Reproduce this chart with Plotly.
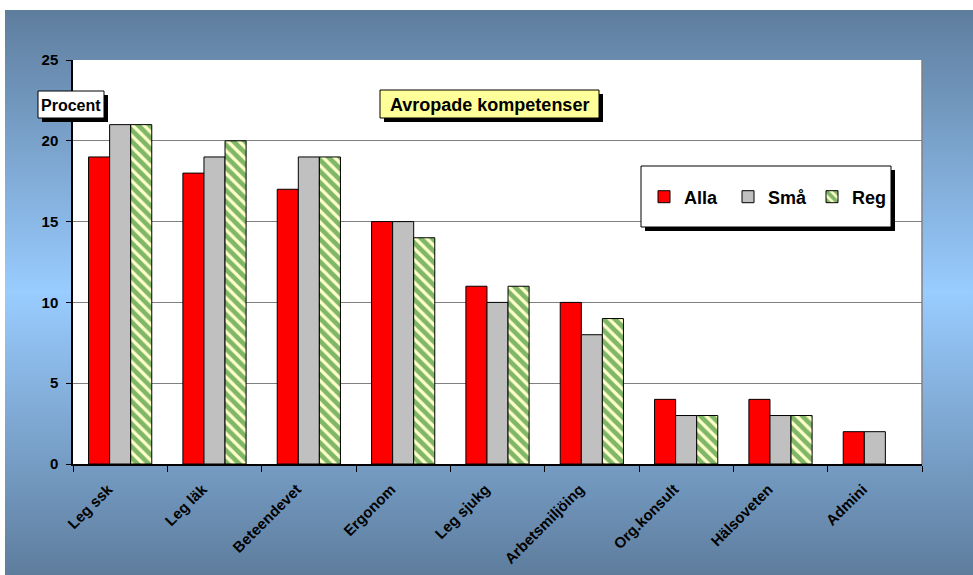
import base64
import plotly.graph_objects as go

categories = ["Leg ssk", "Leg läk", "Beteendevet", "Ergonom", "Leg sjukg",
              "Arbetsmiljöing", "Org.konsult", "Hälsoveten", "Admini"]
alla = [19, 18, 17, 15, 11, 10, 4, 4, 2]
sma = [21, 19, 19, 15, 10, 8, 3, 3, 2]
reg = [21, 20, 19, 14, 11, 9, 3, 3, None]
y_ticks = [0, 5, 10, 15, 20, 25]

W, H = 973, 575
L, R, T, B = 73, 922, 60, 464
FONT = "Liberation Sans, Arial, sans-serif"


def px_x(px):
    return (px - L) / (R - L)


def px_y(py):
    return (B - py) / (B - T)


fig = go.Figure()
fig.add_trace(go.Bar(name="Alla", x=categories, y=alla,
                     marker=dict(color="#ff0000", line=dict(color="#000000", width=1))))
fig.add_trace(go.Bar(name="Små", x=categories, y=sma,
                     marker=dict(color="#c0c0c0", line=dict(color="#000000", width=1))))
fig.add_trace(go.Bar(name="Reg", x=categories, y=reg,
                     marker=dict(color="#ffffcc", line=dict(color="#000000", width=1),
                                 pattern=dict(shape="\\", fgcolor="#007000", bgcolor="#ffffcc",
                                              size=8, solidity=0.6))))

svg = ("<svg xmlns='http://www.w3.org/2000/svg' width='968' height='565' viewBox='0 0 968 565' "
       "preserveAspectRatio='none'><defs><linearGradient id='g' x1='0' y1='0' x2='0' y2='1'>"
       "<stop offset='0' stop-color='#5e7d9d'/><stop offset='0.5' stop-color='#99ccff'/>"
       "<stop offset='1' stop-color='#5e7d9d'/></linearGradient></defs>"
       "<rect width='968' height='565' fill='url(#g)'/></svg>")
src = "data:image/svg+xml;base64," + base64.b64encode(svg.encode()).decode()

shapes = [
    # white plot area over the gradient background
    dict(type="rect", xref="paper", yref="paper", x0=0, x1=1, y0=0, y1=1,
         fillcolor="#ffffff", line=dict(width=0), layer="below"),
]


def box(x0, y0, x1, y1, fill, off=4):
    shapes.append(dict(type="rect", xref="paper", yref="paper",
                       x0=px_x(x0 + off), x1=px_x(x1 + off), y0=px_y(y0 + off), y1=px_y(y1 + off),
                       fillcolor="#000000", line=dict(width=0), layer="above"))
    shapes.append(dict(type="rect", xref="paper", yref="paper",
                       x0=px_x(x0), x1=px_x(x1), y0=px_y(y0), y1=px_y(y1),
                       fillcolor=fill, line=dict(color="#000000", width=1), layer="above"))


# right border of plot area
shapes.append(dict(type="line", xref="paper", yref="paper", x0=1, x1=1, y0=0, y1=1,
                   line=dict(color="#808080", width=1.5), layer="above"))
box(38, 91, 104, 118, "#ffffff")
box(380, 90, 599, 118, "#ffff99")
box(641, 166, 891, 227, "#ffffff")

annotations = [
    dict(text="Procent", x=px_x(71), y=px_y(105), xref="paper", yref="paper", showarrow=False,
         xanchor="center", yanchor="middle", font=dict(family=FONT, size=16, color="#000", weight="bold")),
    dict(text="Avropade kompetenser", x=px_x(489.5), y=px_y(104.5), xref="paper", yref="paper",
         showarrow=False, xanchor="center", yanchor="middle",
         font=dict(family=FONT, size=18, color="#000", weight="bold")),
]

fig.update_layout(
    width=W, height=H,
    margin=dict(l=L, r=W - R, t=T, b=H - B, pad=0, autoexpand=False),
    paper_bgcolor="#ffffff", plot_bgcolor="#ffffff",
    barmode="group", bargap=0.33, bargroupgap=0,
    font=dict(family=FONT, color="#000000"),
    showlegend=True,
    legend=dict(orientation="h", x=px_x(644), y=px_y(197), xanchor="left", yanchor="middle",
                bgcolor="rgba(0,0,0,0)", borderwidth=0, entrywidth=39, entrywidthmode="pixels",
                font=dict(family=FONT, size=18, color="#000", weight="bold"), traceorder="normal"),
    xaxis=dict(showline=True, linecolor="#000000", linewidth=1.5, ticks="outside", ticklen=6,
               tickcolor="#000000", tickson="boundaries", tickangle=-45, showgrid=False,
               ticklabelshift=-12, ticklabelstandoff=9,
               tickfont=dict(family=FONT, size=15, color="#000", weight="bold")),
    yaxis=dict(range=[0, 25], tickvals=y_ticks, showline=True, linecolor="#000000", linewidth=1.5,
               ticks="outside", ticklen=5, tickcolor="#000000", showgrid=True, gridcolor="#808080",
               gridwidth=1, zeroline=False, ticklabelstandoff=5,
               tickfont=dict(family=FONT, size=15, color="#000", weight="bold")),
    images=[dict(source=src, xref="paper", yref="paper", x=px_x(5), y=px_y(10),
                 sizex=(W - 5) / (R - L), sizey=(H - 10) / (B - T), sizing="stretch",
                 xanchor="left", yanchor="top", layer="below")],
    shapes=shapes,
    annotations=annotations,
)

fig.write_html("out.html")
